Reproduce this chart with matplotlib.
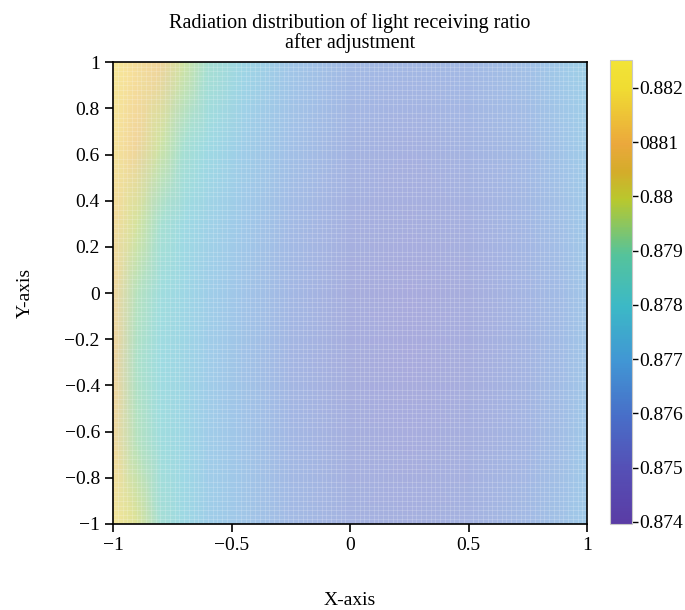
import numpy as np
import matplotlib.pyplot as plt
from matplotlib.colors import LinearSegmentedColormap, Normalize
from matplotlib.cm import ScalarMappable
from matplotlib.ticker import MultipleLocator

plt.rcParams['font.family'] = ['Liberation Serif', 'DejaVu Serif']
plt.rcParams['font.size'] = 14

# sample positions on the receiving plane
xs = [-1, -0.9, -0.8, -0.7, -0.6, -0.45, -0.25, 0, 0.25, 0.5, 0.75, 0.9, 1]
ys = [-1, -0.65, -0.3, 0, 0.3, 0.65, 1]

# light receiving ratio, one row per y value
ratio = [
    [0.8817, 0.8800, 0.8786, 0.8778, 0.8772, 0.8768, 0.8762, 0.8757, 0.8755, 0.8757, 0.8762, 0.8766, 0.8770],
    [0.8812, 0.8792, 0.8782, 0.8777, 0.8771, 0.8767, 0.8760, 0.8755, 0.8753, 0.8755, 0.8759, 0.8764, 0.8769],
    [0.8810, 0.8790, 0.8780, 0.8776, 0.8771, 0.8766, 0.8759, 0.8754, 0.8752, 0.8754, 0.8758, 0.8763, 0.8768],
    [0.8811, 0.8792, 0.8782, 0.8777, 0.8772, 0.8767, 0.8760, 0.8754, 0.8752, 0.8754, 0.8759, 0.8763, 0.8768],
    [0.8813, 0.8798, 0.8787, 0.8779, 0.8774, 0.8769, 0.8762, 0.8756, 0.8754, 0.8756, 0.8760, 0.8765, 0.8769],
    [0.8816, 0.8808, 0.8797, 0.8787, 0.8779, 0.8772, 0.8765, 0.8758, 0.8756, 0.8758, 0.8762, 0.8767, 0.8771],
    [0.8818, 0.8814, 0.8808, 0.8797, 0.8787, 0.8777, 0.8768, 0.8762, 0.8760, 0.8761, 0.8765, 0.8770, 0.8773],
]

cbar_ticks = [0.874, 0.875, 0.876, 0.877, 0.878, 0.879, 0.88, 0.881, 0.882]
cbar_labels = ['0.874', '0.875', '0.876', '0.877', '0.878', '0.879', '0.88', '0881', '0.882']
vmin, vmax = 0.87396, 0.88252

# parula-like colour map, slightly washed out
stops = [
    (0.00, (90, 60, 165)),
    (0.12, (85, 80, 182)),
    (0.23, (72, 110, 200)),
    (0.35, (65, 150, 212)),
    (0.47, (60, 185, 198)),
    (0.58, (85, 195, 155)),
    (0.70, (185, 200, 45)),
    (0.76, (212, 172, 42)),
    (0.82, (235, 168, 60)),
    (0.94, (240, 220, 50)),
    (1.00, (242, 228, 55)),
]
bar_cmap = LinearSegmentedColormap.from_list(
    'parula_bar', [(p, tuple(v / 255 for v in c)) for p, c in stops])
fade = 0.5
map_cmap = LinearSegmentedColormap.from_list(
    'parula_faded',
    [(p, tuple((1 - fade) * v / 255 + fade for v in c)) for p, c in stops])

norm = Normalize(vmin=vmin, vmax=vmax)

fig = plt.figure(figsize=(6.85, 6.10), dpi=100)
ax = fig.add_axes([0.165, 0.141, 0.692, 0.757])
cax = fig.add_axes([0.890, 0.141, 0.033, 0.761])

X, Y = np.meshgrid(xs, ys)
ax.pcolormesh(X, Y, np.array(ratio), cmap=map_cmap, norm=norm, shading='gouraud')

# fine mesh lines over the surface
ax.xaxis.set_minor_locator(MultipleLocator(0.02))
ax.yaxis.set_minor_locator(MultipleLocator(0.02))
ax.tick_params(which='minor', length=0)
ax.grid(which='minor', color='white', lw=0.5, alpha=0.25)
ax.set_axisbelow('line')

ax.set_xlim(-1, 1)
ax.set_ylim(-1, 1)
ax.set_xticks([-1, -0.5, 0, 0.5, 1])
ax.set_xticklabels(['\u22121', '\u22120.5', '0', '0.5', '1'])
ax.set_yticks(np.linspace(-1, 1, 11))
ax.set_yticklabels(['\u22121', '\u22120.8', '\u22120.6', '\u22120.4', '\u22120.2', '0',
                    '0.2', '0.4', '0.6', '0.8', '1'])
ax.tick_params(which='major', direction='out', length=6, width=1.2, labelsize=14)
for s in ax.spines.values():
    s.set_linewidth(1.2)
    s.set_zorder(3)

ax.set_xlabel('X-axis', fontsize=14)
ax.xaxis.set_label_coords(0.5, -0.148)
ax.set_ylabel('Y-axis', fontsize=14)
ax.yaxis.set_label_coords(-0.168, 0.5)
ax.set_title('Radiation distribution of light receiving ratio\nafter adjustment',
             fontsize=14.5, pad=10, linespacing=1.05)

cb = fig.colorbar(ScalarMappable(norm=norm, cmap=bar_cmap), cax=cax)
cb.set_ticks(cbar_ticks)
cb.set_ticklabels(cbar_labels)
cb.ax.tick_params(length=4, width=1, labelsize=14, pad=1)
cb.outline.set_edgecolor('#c8c8c8')
cb.outline.set_linewidth(0.8)

fig.savefig('out.png', dpi=100)
